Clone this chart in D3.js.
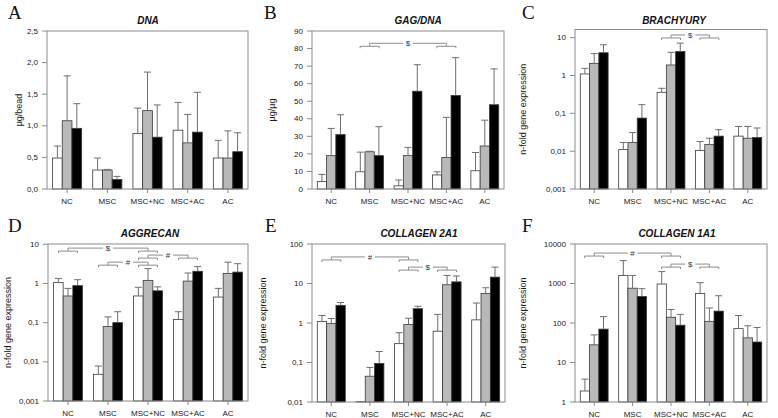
<!DOCTYPE html>
<html><head><meta charset="utf-8">
<script src="https://cdn.jsdelivr.net/npm/d3@7/dist/d3.min.js"></script>
<style>body{margin:0;background:#fff} svg{display:block}
.sans{font-family:'Liberation Sans', Arial, sans-serif}
.serif{font-family:'Liberation Serif', 'DejaVu Serif', 'Times New Roman', serif}
</style>
</head><body><svg id="c" width="778" height="418"></svg>
<script>
const categories = ["NC","MSC","MSC+NC","MSC+AC","AC"];

// A: DNA (µg/bead)
const dnaWhite   = [0.49, 0.30, 0.88, 0.93, 0.49];
const dnaGray    = [1.08, 0.30, 1.24, 0.73, 0.49];
const dnaBlack   = [0.96, 0.15, 0.82, 0.90, 0.59];
const dnaWhiteHi = [0.68, 0.49, 1.28, 1.37, 0.77];
const dnaGrayHi  = [1.79, 0.31, 1.85, 1.18, 0.92];
const dnaBlackHi = [1.35, 0.20, 1.33, 1.53, 0.89];
const dnaTicks = [0, 0.5, 1, 1.5, 2, 2.5];
const dnaTickLabels = ["0,0","0,5","1,0","1,5","2,0","2,5"];

// B: GAG/DNA (µg/µg)
const gagWhite   = [4.3, 9.8, 1.8, 8.0, 10.4];
const gagGray    = [19, 21.2, 19, 18, 24.5];
const gagBlack   = [31, 19, 55.7, 53.3, 48];
const gagWhiteHi = [8.3, 21, 5.1, 9.8, 20.8];
const gagGrayHi  = [34.5, 21.5, 23.7, 40.8, 39.2];
const gagBlackHi = [42.3, 35.5, 70.8, 74.8, 68.4];
const gagTicks = [0,10,20,30,40,50,60,70,80,90];
const gagTickLabels = ["0","10","20","30","40","50","60","70","80","90"];
const gagSig = [["MSC","MSC+AC","$",83]];

// C: BRACHYURY
const braWhite   = [1.1, 0.011, 0.36, 0.0105, 0.025];
const braGray    = [2.1, 0.017, 1.9, 0.015, 0.022];
const braBlack   = [4.0, 0.075, 4.3, 0.025, 0.023];
const braWhiteHi = [1.55, 0.017, 0.46, 0.018, 0.045];
const braGrayHi  = [3.8, 0.031, 4.1, 0.022, 0.045];
const braBlackHi = [6.5, 0.17, 7.2, 0.037, 0.041];
const braTicks = [0.001, 0.01, 0.1, 1, 10];
const braTickLabels = ["0,001","0,01","0,1","1","10"];
const braSig = [["MSC+NC","MSC+AC","$",11.8]];

// D: AGGRECAN
const aggWhite   = [1.05, 0.0048, 0.48, 0.12, 0.45];
const aggGray    = [0.48, 0.08, 1.2, 1.15, 1.8];
const aggBlack   = [0.88, 0.10, 0.65, 2.05, 1.95];
const aggWhiteHi = [1.35, 0.0078, 0.80, 0.19, 0.75];
const aggGrayHi  = [0.75, 0.14, 2.4, 1.85, 3.5];
const aggBlackHi = [1.25, 0.19, 0.82, 2.7, 3.2];
const aggTicks = [0.001, 0.01, 0.1, 1, 10];
const aggTickLabels = ["0,001","0,01","0,1","1","10"];
const aggSig = [["NC","MSC+NC","$",8],["MSC+NC","MSC+AC","#",5.3],["MSC","MSC+NC","#",3.5]];

// E: COLLAGEN 2A1
const c2White   = [1.1, 0.0102, 0.30, 0.62, 1.2];
const c2Gray    = [0.98, 0.045, 0.92, 9.3, 5.6];
const c2Black   = [2.8, 0.095, 2.3, 11, 14.5];
const c2WhiteHi = [1.55, null, 0.57, 1.65, 3.2];
const c2GrayHi  = [1.3, 0.075, 1.32, 16, 7.8];
const c2BlackHi = [3.3, 0.19, 2.65, 15.5, 26];
const c2Ticks = [0.01, 0.1, 1, 10, 100];
const c2TickLabels = ["0,01","0,1","1","10","100"];
const c2Sig = [["NC","MSC+NC","#",47],["MSC+NC","MSC+AC","$",26]];

// F: COLLAGEN 1A1
const c1White   = [1.9, 1600, 970, 560, 72];
const c1Gray    = [28, 760, 140, 110, 42];
const c1Black   = [70, 470, 88, 200, 33];
const c1WhiteHi = [3.8, 3800, 2000, 1050, 155];
const c1GrayHi  = [50, 1600, 220, 240, 85];
const c1BlackHi = [145, 740, 165, 490, 77];
const c1Ticks = [1, 10, 100, 1000, 10000];
const c1TickLabels = ["1","10","100","1000","10000"];
const c1Sig = [["NC","MSC+NC","#",5900],["MSC+NC","MSC+AC","$",3100]];

const seriesFill = ["#ffffff", "#b9b9b9", "#000000"];

const panels = [
  {letter:"A", lx:8, ly:19, title:"DNA", tx:148, ty:24, ylab:"µg/bead", ylx:19,
   x0:47, x1:248, frameTop:31, yb:189, yt:31, log:false, dom:[0,2.5],
   ticks:dnaTicks, labels:dnaTickLabels, vals:[dnaWhite,dnaGray,dnaBlack], hi:[dnaWhiteHi,dnaGrayHi,dnaBlackHi], sig:[]},
  {letter:"B", lx:264, ly:19, title:"GAG/DNA", tx:418, ty:24, ylab:"µg/µg", ylx:272,
   x0:312, x1:504, frameTop:31, yb:189, yt:31, log:false, dom:[0,90],
   ticks:gagTicks, labels:gagTickLabels, vals:[gagWhite,gagGray,gagBlack], hi:[gagWhiteHi,gagGrayHi,gagBlackHi], sig:gagSig},
  {letter:"C", lx:522, ly:19, title:"BRACHYURY", tx:674, ty:24, ylab:"n-fold gene expression", ylx:523,
   x0:575, x1:767, frameTop:29.5, yb:189, yt:37.7, log:true, dom:[0.001,10],
   ticks:braTicks, labels:braTickLabels, vals:[braWhite,braGray,braBlack], hi:[braWhiteHi,braGrayHi,braBlackHi], sig:braSig},
  {letter:"D", lx:8, ly:232, title:"AGGRECAN", tx:150, ty:237, ylab:"n-fold gene expression", ylx:8,
   x0:48, x1:248, frameTop:244, yb:401, yt:244.3, log:true, dom:[0.001,10],
   ticks:aggTicks, labels:aggTickLabels, vals:[aggWhite,aggGray,aggBlack], hi:[aggWhiteHi,aggGrayHi,aggBlackHi], sig:aggSig},
  {letter:"E", lx:265, ly:232, title:"COLLAGEN 2A1", tx:419, ty:237, ylab:"n-fold gene expression", ylx:263,
   x0:312, x1:505, frameTop:244, yb:402, yt:244, log:true, dom:[0.01,100],
   ticks:c2Ticks, labels:c2TickLabels, vals:[c2White,c2Gray,c2Black], hi:[c2WhiteHi,c2GrayHi,c2BlackHi], sig:c2Sig},
  {letter:"F", lx:522, ly:232, title:"COLLAGEN 1A1", tx:677, ty:237, ylab:"n-fold gene expression", ylx:523,
   x0:575, x1:767, frameTop:244, yb:402, yt:244, log:true, dom:[1,10000],
   ticks:c1Ticks, labels:c1TickLabels, vals:[c1White,c1Gray,c1Black], hi:[c1WhiteHi,c1GrayHi,c1BlackHi], sig:c1Sig}
];

const svg = d3.select("#c");
const axisCol = "#8c8c8c";
const errCol = "#6e6e6e";
const txtCol = "#1a1a1a";

panels.forEach(p => {
  const g = svg.append("g");
  const x = d3.scaleBand().domain(categories).range([p.x0, p.x1]).paddingInner(0.275).paddingOuter(0.1375);
  const xs = d3.scaleBand().domain([0,1,2]).range([0, x.bandwidth()]);
  const y = (p.log ? d3.scaleLog() : d3.scaleLinear()).domain(p.dom).range([p.yb, p.yt]);
  const base = p.yb;

  g.append("text").attr("class","serif").attr("x", p.lx).attr("y", p.ly).text(p.letter)
    .attr("font-family","'Liberation Serif', 'DejaVu Serif', serif")
    .attr("font-size", 19).attr("fill", "#111");
  g.append("text").attr("class","sans").attr("x", p.tx).attr("y", p.ty).attr("text-anchor","middle").text(p.title)
    .attr("font-size",10).attr("font-weight","bold").attr("font-style","italic").attr("fill", "#111");
  g.append("text").attr("class","sans").attr("transform", `translate(${p.ylx},${(p.frameTop+p.yb)/2}) rotate(-90)`)
    .attr("text-anchor","middle").attr("dy","0.35em").text(p.ylab)
    .attr("font-size",9).attr("fill", txtCol);

  p.ticks.forEach((t,i) => {
    g.append("line").attr("x1", p.x0-5).attr("x2", p.x0).attr("y1", y(t)).attr("y2", y(t))
      .attr("stroke", axisCol).attr("stroke-width",1);
    g.append("text").attr("class","sans").attr("x", p.x0-9).attr("y", y(t)).attr("dy","0.33em").attr("text-anchor","end")
      .text(p.labels[i]).attr("font-size",8).attr("fill", txtCol);
  });
  categories.forEach(c => {
    const cx = x(c) + x.bandwidth()/2;
    g.append("line").attr("x1", cx).attr("x2", cx).attr("y1", p.yb).attr("y2", p.yb+4)
      .attr("stroke", axisCol).attr("stroke-width",1);
    g.append("text").attr("class","sans").attr("x", cx).attr("y", p.yb+15).attr("text-anchor","middle").text(c)
      .attr("font-size",8).attr("fill", txtCol);
  });

  p.vals.forEach((arr, s) => {
    categories.forEach((c, i) => {
      const v = arr[i];
      const bx = x(c) + xs(s);
      const bw = xs.bandwidth();
      const top = y(v);
      g.append("rect").attr("x", bx).attr("y", top).attr("width", bw).attr("height", Math.max(0, base-top))
        .attr("fill", seriesFill[s]).attr("stroke", "#3a3a3a").attr("stroke-width", 0.8);
      const h = p.hi[s][i];
      if (h != null) {
        const cx = bx + bw/2;
        g.append("line").attr("x1", cx).attr("x2", cx).attr("y1", top).attr("y2", y(h))
          .attr("stroke", errCol).attr("stroke-width", 1);
        g.append("line").attr("x1", cx-3.5).attr("x2", cx+3.5).attr("y1", y(h)).attr("y2", y(h))
          .attr("stroke", errCol).attr("stroke-width", 1);
      }
    });
  });

  g.append("rect").attr("x", p.x0).attr("y", p.frameTop).attr("width", p.x1-p.x0).attr("height", p.yb-p.frameTop)
    .attr("fill","none").attr("stroke", axisCol).attr("stroke-width", 1);

  p.sig.forEach(([a, b, sym, lvl]) => {
    const yc = y(lvl);
    const yb2 = yc + 3;
    const ca = x(a) + x.bandwidth()/2, cb = x(b) + x.bandwidth()/2;
    const hw = 9.5;
    [ca, cb].forEach(cx => {
      g.append("path").attr("d", `M${cx-hw},${yb2+2}V${yb2}H${cx+hw}V${yb2+2}M${cx},${yb2}V${yc}`)
        .attr("fill","none").attr("stroke", axisCol).attr("stroke-width",1);
    });
    const mid = (ca+cb)/2;
    g.append("line").attr("x1", ca).attr("x2", mid-5).attr("y1", yc).attr("y2", yc).attr("stroke", axisCol);
    g.append("line").attr("x1", mid+5).attr("x2", cb).attr("y1", yc).attr("y2", yc).attr("stroke", axisCol);
    g.append("text").attr("class","sans").attr("x", mid).attr("y", yc).attr("dy","0.33em").attr("text-anchor","middle").text(sym)
      .attr("font-size",8).attr("fill", "#333");
  });
});
</script></body></html>
